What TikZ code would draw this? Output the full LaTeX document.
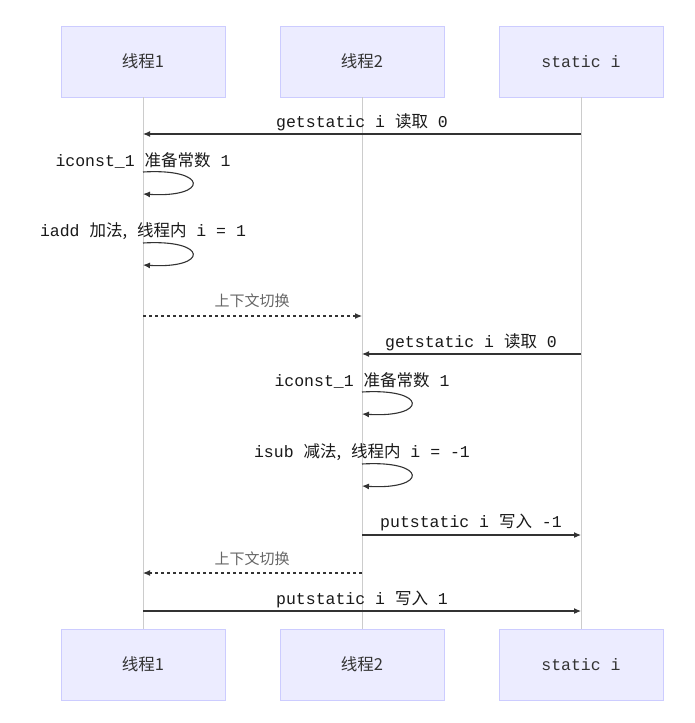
\documentclass[tikz,border=0pt]{standalone}
\usepackage{fontspec}
\setmainfont{Liberation Mono}
\newfontfamily\cjk{Noto Sans CJK SC}
\usetikzlibrary{arrows.meta}
\definecolor{actfill}{HTML}{ECECFF}
\definecolor{actline}{HTML}{CCCCFF}
\definecolor{msgline}{HTML}{333333}
\begin{document}
\begin{tikzpicture}[x=1pt,y=-1pt,
  actor/.style={draw=actline,fill=actfill,line width=0.8pt,minimum width=164pt,minimum height=71pt,font=\fontsize{16.5}{18}\selectfont,text=black!80},
  msg/.style={draw=msgline,line width=1.1pt,-{Latex[length=7pt,width=6pt]}},
  switch/.style={msg,dashed},
  lbl/.style={font=\fontsize{16.5}{18}\selectfont,text=black!90},
  glbl/.style={font=\fontsize{15}{18}\selectfont,text=black!60}]
  \useasboundingbox (0,0) rectangle (694,723);
  \fill[white] (0,0) rectangle (694,723);
%% actors
  \node[actor] (t1top) at (143,61.5) {\cjk 线程1};
  \node[actor] (t2top) at (362,61.5) {\cjk 线程2};
  \node[actor] (sitop) at (581,61.5) {static i};
  \node[actor] (t1bot) at (143,664.5) {\cjk 线程1};
  \node[actor] (t2bot) at (362,664.5) {\cjk 线程2};
  \node[actor] (sibot) at (581,664.5) {static i};
%% lifelines
  \foreach \a in {t1,t2,si}
    \draw[black!20,line width=0.8pt] (\a top) -- (\a bot);
%% messages
  \foreach \y in {134,316,354,535,573,611} {
    \coordinate (t1-\y) at (143,\y);
    \coordinate (t2-\y) at (362,\y);
    \coordinate (si-\y) at (581,\y);
  }
  \draw[msg] (si-134) -- (t1-134);
  \node[lbl] (m1) at (362,122) {getstatic i {\cjk 读取} 0};
  \draw[switch] (t1-316) -- (t2-316);
  \node[glbl] (m4) at (252,301) {\cjk 上下文切换};
  \draw[msg] (si-354) -- (t2-354);
  \node[lbl] (m5) at (471,342) {getstatic i {\cjk 读取} 0};
  \draw[msg] (t2-535) -- (si-535);
  \node[lbl] (m8) at (471,522) {putstatic i {\cjk 写入} -1};
  \draw[switch] (t2-573) -- (t1-573);
  \node[glbl] (m9) at (252,559) {\cjk 上下文切换};
  \draw[msg] (t1-611) -- (si-611);
  \node[lbl] (m10) at (362,599) {putstatic i {\cjk 写入} 1};
%% self calls
  \foreach \x/\y/\txt in {143/172/iconst\_1 {\cjk 准备常数} 1,
                          143/243/iadd {\cjk 加法,} {\cjk 线程内} i = 1,
                          362/392/iconst\_1 {\cjk 准备常数} 1,
                          362/464/isub {\cjk 减法,} {\cjk 线程内} i = -1} {
    \coordinate (s-\x-\y) at (\x,\y);
    \coordinate (e-\x-\y) at (\x,\y+22);
    \draw[msg] (s-\x-\y) .. controls (\x+66,\y-4) and (\x+66,\y+26) .. (e-\x-\y);
    \node[lbl] at (\x,\y-12) {\txt};
  }
\end{tikzpicture}
\end{document}
